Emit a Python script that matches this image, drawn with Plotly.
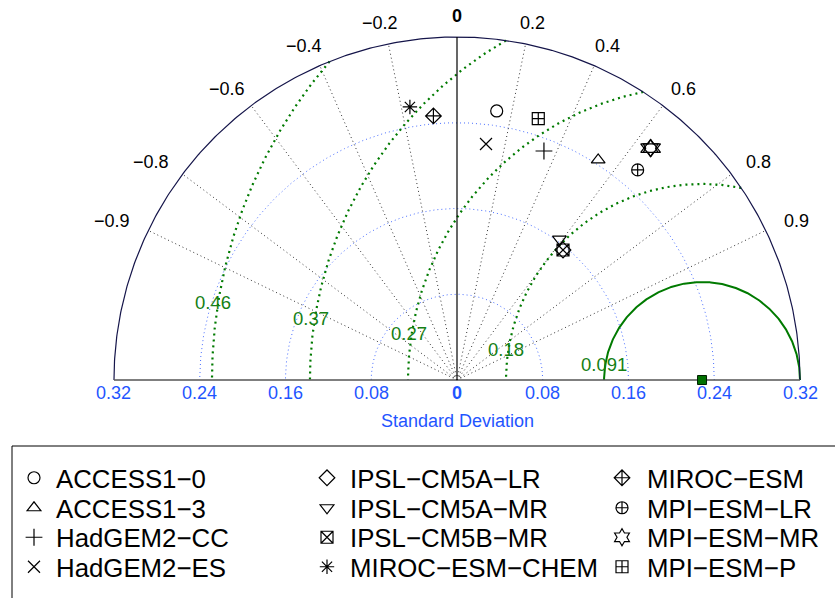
import numpy as np
import plotly.graph_objects as go

# ---------------- data ----------------
models = ["ACCESS1\u22120", "ACCESS1\u22123", "HadGEM2\u2212CC", "HadGEM2\u2212ES",
          "IPSL\u2212CM5A\u2212LR", "IPSL\u2212CM5A\u2212MR", "IPSL\u2212CM5B\u2212MR", "MIROC\u2212ESM\u2212CHEM",
          "MIROC\u2212ESM", "MPI\u2212ESM\u2212LR", "MPI\u2212ESM\u2212MR", "MPI\u2212ESM\u2212P"]
std_dev = [0.2537, 0.2439, 0.2285, 0.2218, 0.1565, 0.1625, 0.1565, 0.2585,
           0.2473, 0.2585, 0.2818, 0.2553]
corr = [0.146, 0.540, 0.355, 0.122, 0.632, 0.588, 0.632, -0.170,
        -0.089, 0.652, 0.641, 0.297]
symbols = ["circle-open", "triangle-up-open", "cross-thin-open", "x-thin-open",
           "diamond-open", "triangle-down-open", "square-x-open", "asterisk-open",
           "diamond-cross-open", "circle-cross-open", "hexagram-open", "square-cross-open"]
ref_std = 0.2286
rms_levels = [0.0914, 0.1829, 0.2743, 0.3658, 0.4572]
rms_labels = ["0.091", "0.18", "0.27", "0.37", "0.46"]
corr_ticks = [-0.9, -0.8, -0.6, -0.4, -0.2, 0.0, 0.2, 0.4, 0.6, 0.8, 0.9]
corr_tick_labels = ["\u22120.9", "\u22120.8", "\u22120.6", "\u22120.4", "\u22120.2", "0",
                    "0.2", "0.4", "0.6", "0.8", "0.9"]
std_ticks = [-0.32, -0.24, -0.16, -0.08, 0.0, 0.08, 0.16, 0.24, 0.32]
std_tick_labels = ["0.32", "0.24", "0.16", "0.08", "0", "0.08", "0.16", "0.24", "0.32"]
std_circles = [0.08, 0.16, 0.24]
std_max = 0.32

FONT = "Liberation Sans, Arial, Helvetica, sans-serif"
BLUE = "#1f55ff"
GREEN = "#007a00"

fig = go.Figure()

th = np.linspace(0, np.pi, 400)

for r in std_circles:
    fig.add_trace(go.Scatter(x=r * np.cos(th), y=r * np.sin(th), mode="lines",
                             line=dict(color="#4a6fff", width=1, dash="1px,3px"),
                             showlegend=False, hoverinfo="skip"))

for c in corr_ticks:
    if c == 0:
        continue
    a = np.arccos(c)
    fig.add_trace(go.Scatter(x=[0, std_max * np.cos(a)], y=[0, std_max * np.sin(a)], mode="lines",
                             line=dict(color="#333333", width=1, dash="1px,3px"),
                             showlegend=False, hoverinfo="skip"))

for i, rms in enumerate(rms_levels):
    c0 = (std_max**2 - ref_std**2 - rms**2) / (2 * ref_std * rms)
    t0 = 0.0 if c0 >= 1 else np.arccos(max(-1.0, c0))
    tt = np.linspace(t0, np.pi, 300)
    fig.add_trace(go.Scatter(x=ref_std + rms * np.cos(tt), y=rms * np.sin(tt), mode="lines",
                             line=dict(color=GREEN, width=2 if i == 0 else 2.2,
                                       dash="solid" if i == 0 else "2px,4px"),
                             showlegend=False, hoverinfo="skip"))

fig.add_trace(go.Scatter(x=std_max * np.cos(th), y=std_max * np.sin(th), mode="lines",
                         line=dict(color="#15154a", width=1.2), showlegend=False, hoverinfo="skip"))
fig.add_trace(go.Scatter(x=[-std_max, std_max], y=[0, 0], mode="lines",
                         line=dict(color="#555555", width=1.5), showlegend=False, hoverinfo="skip"))
fig.add_trace(go.Scatter(x=[0, 0], y=[0, std_max], mode="lines",
                         line=dict(color="#000000", width=1.2), showlegend=False, hoverinfo="skip"))

W, H = 835, 598
col_marker_x = [34, 327, 622]
col_gap = [22, 23, 25]
row_y = [478, 508, 537.5, 567]

legend_layouts = {}
for i, name in enumerate(models):
    a = np.arccos(corr[i])
    px_, py_ = std_dev[i] * np.cos(a), std_dev[i] * np.sin(a)
    key = "legend" if i == 0 else "legend%d" % (i + 1)
    col, row = i // 4, i % 4
    iw = max(30, 2 * (col_gap[col] - 5))
    legend_layouts[key] = dict(
        x=(col_marker_x[col] - 5 - iw / 2) / W, y=1 - row_y[row] / H,
        xanchor="left", yanchor="middle", bgcolor="rgba(0,0,0,0)", borderwidth=0,
        itemwidth=iw, font=dict(size=25.8, color="black", family=FONT))
    msize = 13 if symbols[i] == "hexagram-open" else 12
    fig.add_trace(go.Scatter(
        x=[px_], y=[py_], mode="markers", name=name,
        marker=dict(symbol=symbols[i], size=msize, color="black", line=dict(color="black", width=1.2)),
        legend=key, showlegend=True))
    if symbols[i] == "hexagram-open":
        # overlay two triangles to give the star-of-David look
        for s in ["triangle-up-open", "triangle-down-open"]:
            fig.add_trace(go.Scatter(
                x=[px_], y=[py_], mode="markers",
                marker=dict(symbol=s, size=msize * 1.32, color="black",
                            line=dict(color="black", width=1.2)),
                showlegend=False, hoverinfo="skip"))

fig.add_trace(go.Scatter(x=[ref_std], y=[0], mode="markers",
                         marker=dict(symbol="square", size=9, color="#007000",
                                     line=dict(color="#002000", width=1)),
                         showlegend=False, hoverinfo="skip"))

ann = []
for c, lab in zip(corr_ticks, corr_tick_labels):
    a = np.arccos(c)
    r = 0.3395
    ann.append(dict(x=r * np.cos(a), y=r * np.sin(a), text=("<b>%s</b>" % lab) if c == 0 else lab,
                    showarrow=False, xanchor="center", yanchor="middle",
                    xshift=c * (13 if c > 0 else 19),
                    font=dict(size=18, color="black", family=FONT)))
for v, lab in zip(std_ticks, std_tick_labels):
    ann.append(dict(x=v, y=-0.0121, text=("<b>%s</b>" % lab) if v == 0 else lab, showarrow=False,
                    xanchor="center", yanchor="middle", font=dict(size=18, color=BLUE, family=FONT)))
ann.append(dict(x=0, y=-0.0385, text="Standard Deviation", showarrow=False, xanchor="center",
                yanchor="middle", font=dict(size=18, color=BLUE, family=FONT)))
for rms, lab in zip(rms_levels, rms_labels):
    a = np.deg2rad(171)
    ann.append(dict(x=ref_std + 1.01 * rms * np.cos(a), y=1.01 * rms * np.sin(a), text=lab,
                    showarrow=False, xanchor="center", yanchor="middle",
                    font=dict(size=18.5, color="#158015", family=FONT)))

ox, oy, ppu = 457.0, 380.0, 1071.9
xr = [(0 - ox) / ppu, (W - ox) / ppu]
yr = [(oy - H) / ppu, oy / ppu]

shapes = [dict(type="rect", xref="paper", yref="paper", x0=12 / W, x1=1.02,
               y0=-0.02, y1=1 - 446 / H, line=dict(color="black", width=1))]

fig.update_layout(
    width=W, height=H, margin=dict(l=0, r=0, t=0, b=0),
    paper_bgcolor="white", plot_bgcolor="white",
    xaxis=dict(range=xr, visible=False, fixedrange=True),
    yaxis=dict(range=yr, visible=False, fixedrange=True),
    annotations=ann, shapes=shapes, showlegend=True,
    **legend_layouts,
)

fig.write_html("out.html")
